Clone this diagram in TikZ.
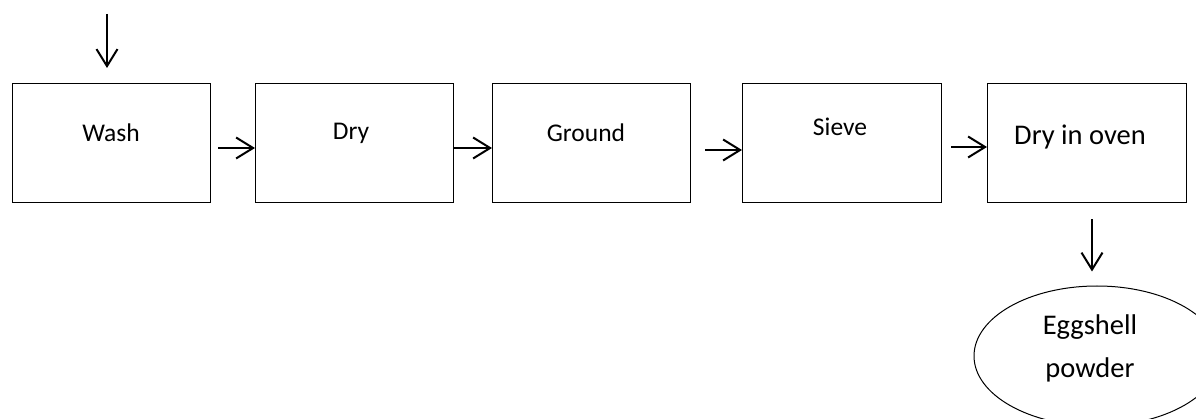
\documentclass[tikz,border=0pt]{standalone}
\usepackage{fontspec}
\setmainfont{Carlito}
\usetikzlibrary{arrows.meta,shapes.geometric}
\begin{document}
\begin{tikzpicture}[x=1pt,y=-1pt,
  stepbox/.style={draw, line width=1.2pt, inner sep=0pt, anchor=north west},
  lbl/.style={font=\fontsize{25.5}{30}\selectfont, inner sep=0pt},
  biglbl/.style={font=\fontsize{28.5}{34}\selectfont, inner sep=0pt, align=center},
  flow/.style={line width=2pt, -{Straight Barb[length=17pt,width=21pt,line width=2pt]}}]
\useasboundingbox (0,0) rectangle (1196,419);
\begin{scope}
\clip (0,0) rectangle (1196,419);
\node[stepbox, minimum width=198pt, minimum height=119pt] (wash) at (12,83) {};
\node[stepbox, minimum width=198pt, minimum height=119pt] (dry) at (255,83) {};
\node[stepbox, minimum width=198pt, minimum height=119pt] (ground) at (492,83) {};
\node[stepbox, minimum width=199pt, minimum height=119pt] (sieve) at (742,83) {};
\node[stepbox, minimum width=199pt, minimum height=119pt] (oven) at (987,83) {};
\node[lbl] (tw) at (111,133) {Wash};
\node[lbl] (td) at (351,133) {Dry};
\node[lbl] (tg) at (586,133) {Ground};
\node[lbl] (ts) at (840,127) {Sieve};
\node[lbl, font=\fontsize{28.5}{34}\selectfont] (to) at (1080,137) {Dry in oven};
\node[draw, line width=1pt, ellipse, minimum width=246pt, minimum height=140pt, inner sep=0pt] (egg) at (1097,356) {};
\node[biglbl] (te) at (1090,348) {Eggshell\\[9pt]powder};
\coordinate (start) at (107,14);
\coordinate (mid) at (1092,218);
\draw[flow, shorten >=15pt] (start) -- (wash.north -| start);
\draw[flow] ([xshift=7pt,yshift=-65pt]wash.north east) -- ([yshift=-65pt]dry.north west);
\draw[flow] ([yshift=-65pt]dry.north east) -- ([yshift=-65pt]ground.north west);
\draw[flow] ([xshift=14pt,yshift=-67pt]ground.north east) -- ([yshift=-67pt]sieve.north west);
\draw[flow] ([xshift=9pt,yshift=-64pt]sieve.north east) -- ([yshift=-64pt]oven.north west);
\draw[flow, shorten <=16pt, shorten >=14pt] (oven.south -| mid) -- (egg.north -| mid);
\end{scope}
\end{tikzpicture}
\end{document}
